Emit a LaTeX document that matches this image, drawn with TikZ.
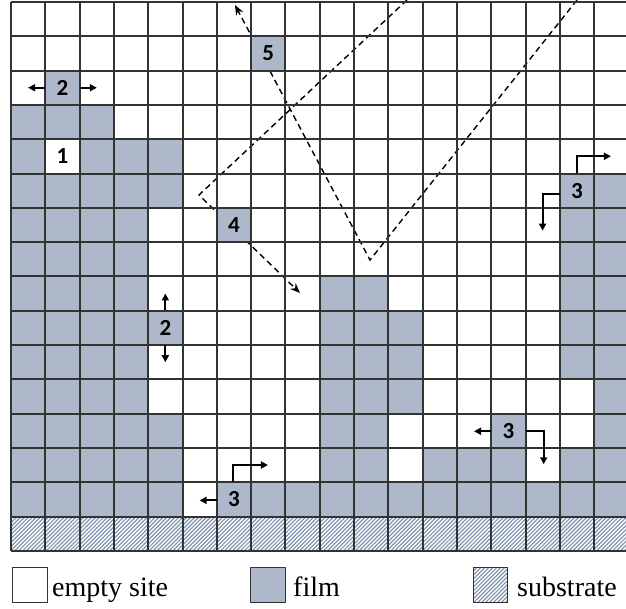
\documentclass[tikz,border=0pt]{standalone}
\usepackage{fontspec}
\setmainfont{Liberation Serif}
\newfontfamily\numfont{Carlito}
\usetikzlibrary{patterns.meta,arrows.meta}
\definecolor{filmc}{HTML}{ADB9CA}
\definecolor{hatchc}{HTML}{7F93B0}
\definecolor{gridc}{HTML}{333333}
\tikzset{
  cellfill/.style={fill=filmc},
  gridline/.style={draw=gridc, line width=1.8pt},
  hatch/.style={pattern={Lines[angle=45,distance=2.8pt,line width=1.2pt]}, pattern color=hatchc},
  numlabel/.style={inner sep=0pt, minimum width=34.3pt, minimum height=34.3pt, font=\numfont\bfseries\fontsize{23}{25}\selectfont},
  arr/.style={line width=2pt, -{Triangle[length=7pt,width=7pt]}},
  dashline/.style={line width=1.4pt, dash pattern=on 6pt off 4pt, -{Stealth[length=10pt,width=8pt]}},
  legendbox/.style={draw=gridc, line width=1pt},
  legendtext/.style={anchor=base west, inner sep=0pt, font=\fontsize{28}{32}\selectfont}
}
\begin{document}
\begin{tikzpicture}[x=1pt,y=-1pt]
\useasboundingbox (0,0) rectangle (626,609);
\fill[white] (0,0) rectangle (626,609);
\def\s{34.3}
\def\xo{11}
\def\yo{2}
\begin{scope}
\clip (0,0) rectangle (626,609);
% dashed trajectories
\coordinate (a1) at (407,0);
\coordinate (a2) at (199,195);
\coordinate (a3) at (300,293);
\coordinate (b1) at (577,0);
\coordinate (b2) at (370,260);
\coordinate (b3) at (235,5);
\draw[dashline] (a1) -- (a2) -- (a3);
\draw[dashline] (b1) -- (b2) -- (b3);
% film cells (col,row)
\foreach \c/\r in {7/1, 1/2, 0/3,1/3,2/3, 0/4,2/4,3/4,4/4,
  0/5,1/5,2/5,3/5,4/5,16/5,17/5,
  0/6,1/6,2/6,3/6,6/6,16/6,17/6,
  0/7,1/7,2/7,3/7,16/7,17/7,
  0/8,1/8,2/8,3/8,9/8,10/8,16/8,17/8,
  0/9,1/9,2/9,3/9,4/9,9/9,10/9,11/9,16/9,17/9,
  0/10,1/10,2/10,3/10,9/10,10/10,11/10,16/10,17/10,
  0/11,1/11,2/11,3/11,9/11,10/11,11/11,17/11,
  0/12,1/12,2/12,3/12,4/12,9/12,10/12,14/12,17/12,
  0/13,1/13,2/13,3/13,4/13,9/13,10/13,12/13,13/13,14/13,16/13,17/13,
  0/14,1/14,2/14,3/14,4/14,6/14,7/14,8/14,9/14,10/14,11/14,12/14,13/14,14/14,15/14,16/14,17/14}
  \fill[cellfill] ({round(\xo+\c*\s)},{round(\yo+\r*\s)}) rectangle ({round(\xo+(\c+1)*\s)},{round(\yo+(\r+1)*\s)});
% substrate
\fill[white] (\xo,{round(\yo+15*\s)}) rectangle (640,{round(\yo+16*\s)});
\fill[hatch] (\xo,{round(\yo+15*\s)}) rectangle (640,{round(\yo+16*\s)});
% grid
\foreach \r in {0,...,16}
  \draw[gridline] (\xo,{round(\yo+\r*\s)}) -- (640,{round(\yo+\r*\s)});
\foreach \c in {0,...,18}
  \draw[gridline] ({round(\xo+\c*\s)},\yo) -- ({round(\xo+\c*\s)},{round(\yo+16*\s)});
\end{scope}
% labels
\node[numlabel] (p5) at ({\xo+7.5*\s},{\yo+1.5*\s}) {5};
\node[numlabel] (p2a) at ({\xo+1.5*\s},{\yo+2.5*\s}) {2};
\node[numlabel] (p1) at ({\xo+1.5*\s},{\yo+4.5*\s}) {1};
\node[numlabel] (p4) at ({\xo+6.5*\s},{\yo+6.5*\s}) {4};
\node[numlabel] (p3b) at ({\xo+16.5*\s},{\yo+5.5*\s}) {3};
\node[numlabel] (p2b) at ({\xo+4.5*\s},{\yo+9.5*\s}) {2};
\node[numlabel] (p3c) at ({\xo+14.5*\s},{\yo+12.5*\s}) {3};
\node[numlabel] (p3a) at ({\xo+6.5*\s},{\yo+14.5*\s}) {3};
% solid arrows
\draw[arr] (p2a.west) -- ++(-17,0);
\draw[arr] (p2a.east) -- ++(17,0);
\draw[arr] (p2b.north) -- ++(0,-17);
\draw[arr] (p2b.south) -- ++(0,17);
\draw[arr] ([yshift=-1pt]p3a.west) -- ++(-17,0);
\draw[arr] ([xshift=-1pt]p3a.north) -- ++(0,-17) -- ++(35,0);
\draw[arr] (p3b.north) -- ++(0,-17) -- ++(34,0);
\draw[arr] ([yshift=-3pt]p3b.west) -- ++(-17,0) -- ++(0,37);
\draw[arr] ([yshift=-0.5pt]p3c.west) -- ++(-17,0);
\draw[arr] ([yshift=-0.5pt]p3c.east) -- ++(18,0) -- ++(0,33);
% legend
\draw[legendbox, fill=white] (12,567) rectangle (47,602);
\node[legendtext] (l1) at (52,596) {empty site};
\draw[legendbox, fill=filmc] (250,567) rectangle (285,602);
\node[legendtext] (l2) at (293,596) {film};
\fill[white] (473,567) rectangle (507,602);
\fill[hatch] (473,567) rectangle (507,602);
\draw[legendbox] (473,567) rectangle (507,602);
\node[legendtext] (l3) at (517,596) {substrate};
\end{tikzpicture}
\end{document}
